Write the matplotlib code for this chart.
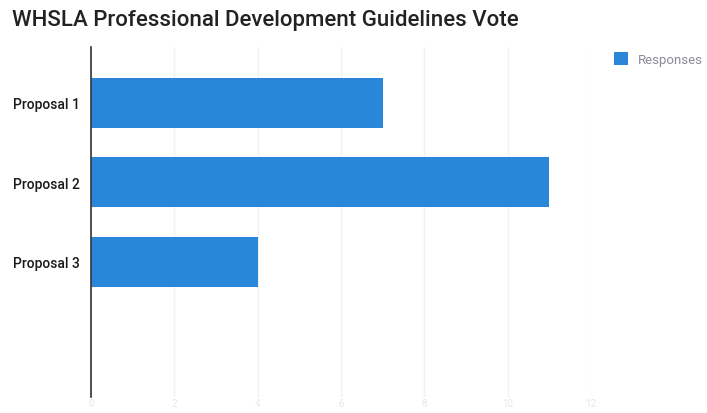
import matplotlib.pyplot as plt

categories = ['Proposal 1', 'Proposal 2', 'Proposal 3']
responses = [7, 11, 4]
x_ticks = [0, 2, 4, 6, 8, 10, 12]

plt.rcParams['font.family'] = 'Roboto'

fig = plt.figure(figsize=(7.07, 4.14), dpi=100)
ax = fig.add_axes([0.1287, 0.0386, 0.7073, 0.8454])

ax.barh(range(len(categories)), responses, height=0.63,
        color='#2a86d9', label='Responses', zorder=2)

ax.set_xlim(0, 12)
ax.set_ylim(3.7, -0.7)
ax.set_yticks(range(len(categories)))
ax.set_yticklabels(categories, fontsize=10, color='#1a1a1a', fontweight='medium')
ax.set_xticks(x_ticks)
ax.set_xticklabels([str(t) for t in x_ticks], fontsize=7, color='#e8e8e8')
ax.tick_params(axis='x', length=0, pad=1)
ax.tick_params(axis='y', length=0, pad=8)

ax.grid(axis='x', color='#f2f2f2', linewidth=1, zorder=0)
for s in ['top', 'right', 'bottom']:
    ax.spines[s].set_visible(False)
ax.spines['left'].set_color('#333333')
ax.spines['left'].set_linewidth(1.2)

fig.text(0.017, 0.95, 'WHSLA Professional Development Guidelines Vote',
         fontsize=16, color='#222222', va='center', ha='left', fontweight='medium')

ax.legend(loc='upper left', bbox_to_anchor=(1.035, 1.0), frameon=False,
          fontsize=9.5, labelcolor='#8a8a9a', handlelength=1.1, handleheight=1.1,
          handletextpad=0.7, borderaxespad=0)

fig.savefig('out.png', dpi=100)
